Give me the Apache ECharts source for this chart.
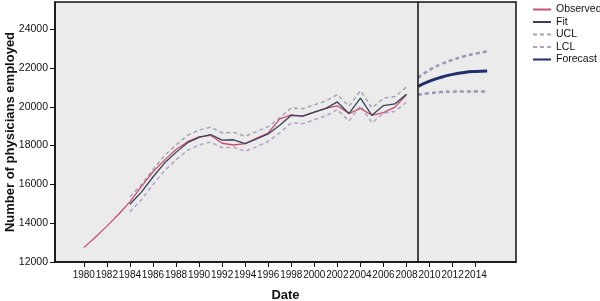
<!DOCTYPE html>
<html><head><meta charset="utf-8">
<script src="https://cdn.jsdelivr.net/npm/echarts@6/dist/echarts.min.js"></script>
<style>html,body{margin:0;padding:0;background:#fff}#c{width:600px;height:301px}</style>
</head><body><div id="c"></div>
<script>
var obsYears = [1980,1981,1982,1983,1984,1985,1986,1987,1988,1989,1990,1991,1992,1993,1994,1995,1996,1997,1998,1999,2000,2001,2002,2003,2004,2005,2006,2007,2008];
var observed = [12740,13280,13850,14450,15100,15900,16650,17250,17800,18200,18450,18530,18120,18030,18100,18380,18650,19380,19580,19520,19720,19920,20050,19650,19920,19560,19700,19980,20620];
var fitYears = [1984,1985,1986,1987,1988,1989,1990,1991,1992,1993,1994,1995,1996,1997,1998,1999,2000,2001,2002,2003,2004,2005,2006,2007,2008];
var fit = [14980,15600,16380,17100,17650,18150,18420,18570,18280,18300,18100,18340,18600,19050,19560,19520,19720,19920,20250,19650,20450,19560,20060,20150,20640];
var ucl = [15360,15980,16760,17480,18030,18530,18800,18950,18660,18680,18480,18720,18980,19430,19940,19900,20100,20300,20630,20030,20830,19940,20440,20530,21020];
var lcl = [14590,15210,15990,16710,17260,17760,18030,18180,17890,17910,17710,17950,18210,18660,19170,19130,19330,19530,19860,19260,20060,19170,19670,19760,20250];
var fcYears = [2009,2010,2011,2012,2013,2014,2015];
var forecast = [21050,21320,21520,21670,21770,21820,21840];
var fcUcl = [21500,21900,22200,22420,22600,22740,22850];
var fcLcl = [20620,20700,20760,20780,20790,20790,20780];
var xTicks = [1980,1982,1984,1986,1988,1990,1992,1994,1996,1998,2000,2002,2004,2006,2008,2010,2012,2014];
var forecastStart = 2009;

function pairs(xs, ys){ return xs.map(function(x,i){ return [x, ys[i]]; }); }

var FONT = 'Liberation Sans, Arial, sans-serif';
var cUCL = '#a4a4b2', cLCL = '#b2a2c6';
var chart = echarts.init(document.getElementById('c'), null, {renderer:'canvas'});
chart.setOption({
  animation: false,
  backgroundColor: '#fff',
  textStyle: {fontFamily: FONT},
  grid: {left: 55, top: 2, right: 84, bottom: 39, containLabel: false, outerBoundsMode: 'none',
    show: true, backgroundColor: '#ebebeb', borderColor: '#111', borderWidth: 1.5},
  legend: {
    orient: 'vertical', left: 532, top: 4, itemWidth: 18, itemHeight: 10, itemGap: 1.5, padding: 0,
    itemStyle: {opacity: 0},
    textStyle: {fontSize: 10.5, color: '#111', fontFamily: FONT, overflow: 'none', width: 70},
    data: ['Observed','Fit','UCL','LCL','Forecast']
  },
  xAxis: {
    type: 'value', min: 1977.5, max: 2017.5,
    name: 'Date', nameLocation: 'middle', nameGap: 27, nameMoveOverlap: false,
    nameTextStyle: {fontSize: 13, fontWeight: 'bold', color: '#111', fontFamily: FONT},
    axisLine: {show: true, onZero: false, lineStyle: {color: '#111', width: 1.5}},
    axisTick: {show: true, length: 5, lineStyle: {color: '#111'}, customValues: xTicks},
    axisLabel: {fontSize: 10, color: '#111', margin: 8, hideOverlap: false, showMinLabel: true, showMaxLabel: true,
      customValues: xTicks, formatter: function(v){ return String(v); }},
    splitLine: {show: false}
  },
  yAxis: {
    type: 'value', min: 12000, max: 25400, interval: 2000,
    name: 'Number of physicians employed', nameLocation: 'middle', nameGap: 38, nameMoveOverlap: false,
    nameTextStyle: {fontSize: 13, fontWeight: 'bold', color: '#111', fontFamily: FONT},
    axisLine: {show: true, lineStyle: {color: '#111', width: 1.5}},
    axisTick: {show: true, length: 5, lineStyle: {color: '#111'}},
    axisLabel: {fontSize: 10.5, color: '#111', margin: 7, showMaxLabel: false, formatter: function(v){ return String(v); }},
    splitLine: {show: false}
  },
  series: [
    {name: 'UCL', type: 'line', symbol: 'none', data: pairs(fitYears, ucl), lineStyle: {color: cUCL, width: 1.5, type: [4,3]}, itemStyle: {color: cUCL}, z: 2},
    {name: 'LCL', type: 'line', symbol: 'none', data: pairs(fitYears, lcl), lineStyle: {color: cLCL, width: 1.5, type: [4,3]}, itemStyle: {color: cLCL}, z: 2},
    {name: 'UCL', type: 'line', symbol: 'none', smooth: true, data: pairs(fcYears, fcUcl), lineStyle: {color: '#9c96b4', width: 2.5, type: [4,3]}, z: 2},
    {name: 'LCL', type: 'line', symbol: 'none', smooth: true, data: pairs(fcYears, fcLcl), lineStyle: {color: '#9c96b4', width: 2.5, type: [4,3]}, z: 2},
    {name: 'Observed', type: 'line', symbol: 'none', data: pairs(obsYears, observed), lineStyle: {color: '#c85070', width: 1.3}, itemStyle: {color: '#c85070'}, z: 3},
    {name: 'Fit', type: 'line', symbol: 'none', data: pairs(fitYears, fit), lineStyle: {color: '#38405a', width: 1.3}, itemStyle: {color: '#38405a'}, z: 4,
      markLine: {silent: true, symbol: 'none', label: {show: false}, lineStyle: {color: '#111', width: 1.5, type: 'solid'}, data: [{xAxis: forecastStart}]}},
    {name: 'Forecast', type: 'line', symbol: 'none', smooth: true, data: pairs(fcYears, forecast), lineStyle: {color: '#1f2f6a', width: 3}, itemStyle: {color: '#1f2f6a'}, z: 4}
  ]
});
</script></body></html>
